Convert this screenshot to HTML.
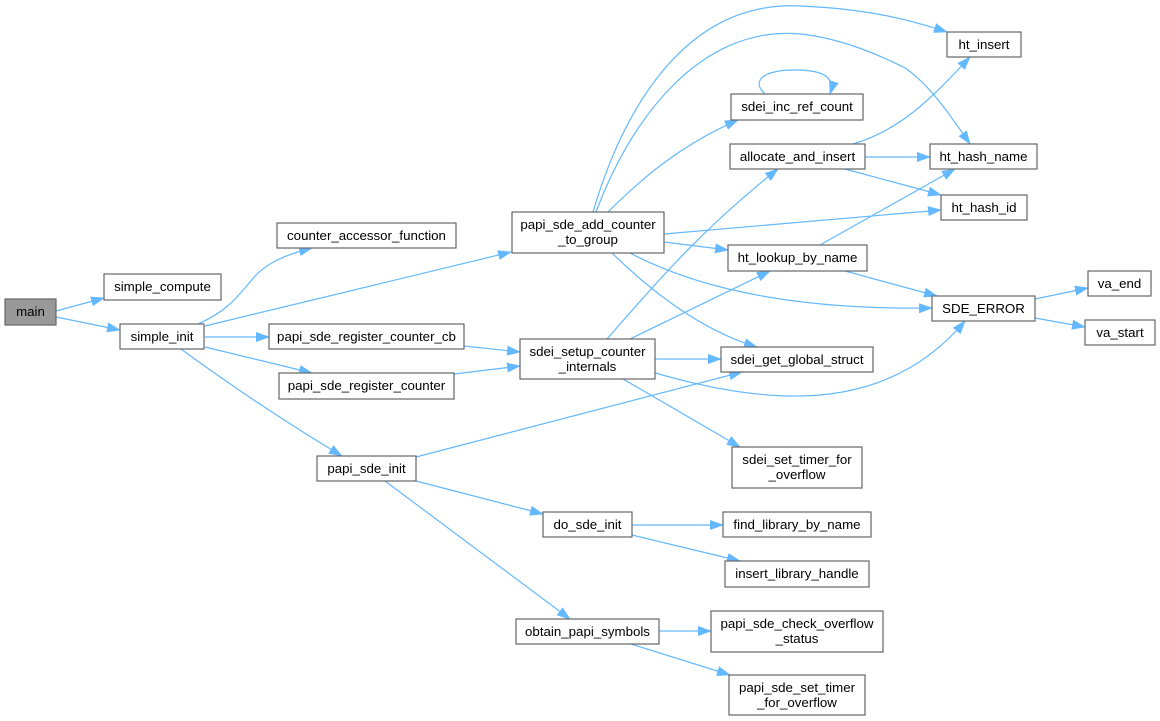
<!DOCTYPE html>
<html><head><meta charset="utf-8"><style>
html,body{margin:0;padding:0;background:#fff;width:1160px;height:721px;overflow:hidden}
svg{display:block}
text{font-family:"Liberation Sans",Arial,sans-serif;font-size:13.3px;fill:#000;text-anchor:middle}
rect{fill:#fff;stroke:#666;stroke-width:1.2}
path{fill:none;stroke:#63b8ff;stroke-width:1.2}
</style></head><body>
<svg width="1160" height="721" viewBox="0 0 1160 721" xmlns="http://www.w3.org/2000/svg">
<defs><marker id="a" markerWidth="14" markerHeight="10" refX="13" refY="5" orient="auto" markerUnits="userSpaceOnUse"><polygon points="0,0 14,5 0,10" fill="#63b8ff"/></marker></defs>
<g marker-end="url(#a)">
<path d="M56,311 L104,298"/>
<path d="M56,317 L120,330"/>
<path d="M198,324 C225,312 235,300 250,282 C262,266 280,256 312,248"/>
<path d="M205,326 L511,252"/>
<path d="M205,337 L269,337"/>
<path d="M205,347 L312,373"/>
<path d="M181,349 C230,385 290,425 342,456"/>
<path d="M464,346 L520,352"/>
<path d="M454,374 L520,366"/>
<path d="M416,457 L742,372"/>
<path d="M416,481 L543,514"/>
<path d="M385,481 L570,619"/>
<path d="M593,212 C620,120 680,0 800,6 C870,9 910,20 947,32"/>
<path d="M596,212 C630,120 700,25 800,34 C840,38 880,55 905,68 C930,85 950,115 970,144"/>
<path d="M608,212 C640,180 680,145 738,120"/>
<path d="M664,234 L941,210"/>
<path d="M664,242 L728,250"/>
<path d="M630,253 C700,290 800,310 932,308"/>
<path d="M612,253 C650,290 700,330 757,347"/>
<path d="M607,339 C650,290 700,230 778,169"/>
<path d="M630,339 L770,271"/>
<path d="M655,359 L721,359"/>
<path d="M652,372 C780,410 890,410 965,321"/>
<path d="M623,379 L740,447"/>
<path d="M853,144 C900,130 930,100 970,57"/>
<path d="M865,157 L930,157"/>
<path d="M845,169 L941,195"/>
<path d="M820,245 L955,169"/>
<path d="M845,271 L937,296"/>
<path d="M1035,299 L1088,288"/>
<path d="M1035,318 L1085,327"/>
<path d="M632,525 L723,525"/>
<path d="M632,535 L740,561"/>
<path d="M659,631 L711,631"/>
<path d="M631,644 L730,675"/>
<path d="M765,94 C750,80 765,70 795,70 C825,70 835,78 830,94"/>
</g>
<rect x="5" y="299" width="51" height="26" style="fill:#999"/><text x="30.5" y="316">main</text>
<rect x="104" y="274" width="117" height="26"/><text x="162.5" y="291">simple_compute</text>
<rect x="120" y="324" width="84" height="25"/><text x="162" y="341">simple_init</text>
<rect x="277" y="223" width="179" height="25"/><text x="366.5" y="240">counter_accessor_function</text>
<rect x="269" y="324" width="195" height="25"/><text x="366.5" y="341">papi_sde_register_counter_cb</text>
<rect x="279" y="373" width="175" height="26"/><text x="366.5" y="390">papi_sde_register_counter</text>
<rect x="317" y="456" width="99" height="25"/><text x="366.5" y="473">papi_sde_init</text>
<rect x="512" y="212" width="152" height="41"/><text x="588" y="229">papi_sde_add_counter</text><text x="588" y="244">_to_group</text>
<rect x="520" y="339" width="135" height="40"/><text x="587.5" y="356">sdei_setup_counter</text><text x="587.5" y="371">_internals</text>
<rect x="543" y="512" width="89" height="25"/><text x="587.5" y="529">do_sde_init</text>
<rect x="516" y="619" width="143" height="25"/><text x="587.5" y="636">obtain_papi_symbols</text>
<rect x="731" y="94" width="132" height="26"/><text x="797" y="111">sdei_inc_ref_count</text>
<rect x="730" y="144" width="135" height="25"/><text x="797.5" y="161">allocate_and_insert</text>
<rect x="728" y="245" width="139" height="26"/><text x="797.5" y="262">ht_lookup_by_name</text>
<rect x="721" y="347" width="152" height="25"/><text x="797" y="364">sdei_get_global_struct</text>
<rect x="732" y="447" width="130" height="41"/><text x="797" y="464">sdei_set_timer_for</text><text x="797" y="479">_overflow</text>
<rect x="723" y="512" width="148" height="25"/><text x="797" y="529">find_library_by_name</text>
<rect x="725" y="561" width="144" height="26"/><text x="797" y="578">insert_library_handle</text>
<rect x="711" y="611" width="172" height="41"/><text x="797" y="628">papi_sde_check_overflow</text><text x="797" y="643">_status</text>
<rect x="729" y="675" width="136" height="40"/><text x="797" y="692">papi_sde_set_timer</text><text x="797" y="707">_for_overflow</text>
<rect x="947" y="32" width="74" height="25"/><text x="984" y="49">ht_insert</text>
<rect x="930" y="144" width="107" height="25"/><text x="983.5" y="161">ht_hash_name</text>
<rect x="941" y="195" width="86" height="25"/><text x="984" y="212">ht_hash_id</text>
<rect x="932" y="296" width="103" height="25"/><text x="983.5" y="313">SDE_ERROR</text>
<rect x="1088" y="271" width="63" height="25"/><text x="1119.5" y="288">va_end</text>
<rect x="1085" y="320" width="70" height="25"/><text x="1120" y="337">va_start</text>
</svg>
</body></html>
